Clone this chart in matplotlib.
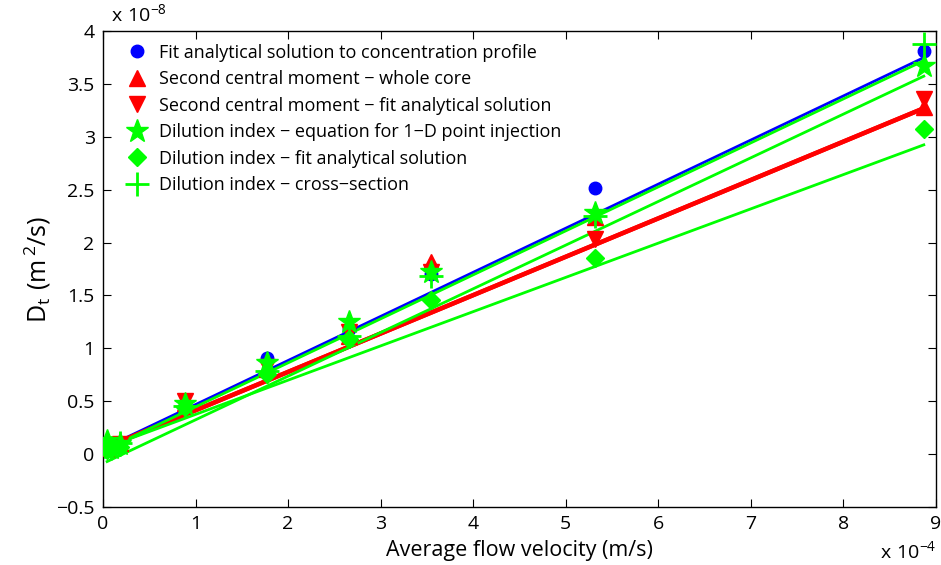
import numpy as np
import matplotlib
matplotlib.use("Agg")
import matplotlib.pyplot as plt

plt.rcParams['font.family'] = ['Open Sans', 'DejaVu Sans']
plt.rcParams['mathtext.fontset'] = 'custom'
plt.rcParams['mathtext.rm'] = 'Open Sans'

# Average flow velocity in units of 1e-4 m/s, dispersion coefficient in 1e-8 m^2/s
velocity = [0.044, 0.089, 0.178, 0.887, 1.774, 2.661, 3.548, 5.322, 8.87]

fit_profile = [0.05, 0.07, 0.10, 0.45, 0.91, 1.18, 1.70, 2.52, 3.81]
moment_core = [0.06, 0.08, 0.10, 0.48, 0.80, 1.12, 1.82, 2.24, 3.28]
moment_fit = [0.05, 0.07, 0.09, 0.50, 0.82, 1.15, 1.72, 2.03, 3.36]
dilution_1d = [0.12, 0.06, 0.09, 0.47, 0.86, 1.25, 1.72, 2.28, 3.67]
dilution_fit = [0.04, 0.05, 0.07, 0.44, 0.76, 1.09, 1.46, 1.85, 3.07]
dilution_xs = [0.08, 0.06, 0.10, 0.45, 0.78, 1.12, 1.68, 2.25, 3.88]

labels = [
    "Fit analytical solution to concentration profile",
    "Second central moment \u2212 whole core",
    "Second central moment \u2212 fit analytical solution",
    "Dilution index \u2212 equation for 1\u2212D point injection",
    "Dilution index \u2212 fit analytical solution",
    "Dilution index \u2212 cross\u2212section",
]

# Linear fits (slope, intercept) for each method
fit_slopes = [0.417, 0.363, 0.363, 0.416, 0.324, 0.413]
fit_intercepts = [0.05, 0.05, 0.05, 0.03, 0.05, -0.09]

series = [fit_profile, moment_core, moment_fit, dilution_1d, dilution_fit, dilution_xs]
colors = ['#0000ff', '#ff0000', '#ff0000', '#00ff00', '#00ff00', '#00ff00']
markers = ['o', '^', 'v', '*', 'D', '+']
msizes = [9, 11, 11, 17, 9, 17]
line_widths = [2.0, 3.2, 3.2, 2.0, 2.0, 2.0]

fig = plt.figure(figsize=(9.41, 5.65), dpi=100)
ax = fig.add_axes([0.1095, 0.103, 0.885, 0.842])

x_line = np.array([velocity[0], velocity[-1]])
for s, c, lw in zip(zip(fit_slopes, fit_intercepts), colors, line_widths):
    ax.plot(x_line, s[0] * x_line + s[1], color=c, lw=lw, zorder=2)

handles = []
for vals, c, m, ms, lab in zip(series, colors, markers, msizes, labels):
    kw = dict(markeredgewidth=2.0) if m == '+' else dict(markeredgecolor=c)
    h, = ax.plot(velocity, vals, linestyle='none', marker=m, color=c,
                 markersize=ms, label=lab, zorder=3, **kw)
    handles.append(h)

ax.set_xlim(0, 9)
ax.set_ylim(-0.5, 4)
ax.set_xticks(range(0, 10))
ax.set_yticks(np.arange(-0.5, 4.01, 0.5))
ax.set_yticklabels(['\u22120.5', '0', '0.5', '1', '1.5', '2', '2.5', '3', '3.5', '4'])
ax.tick_params(direction='in', length=6, width=0.8, labelsize=14,
               top=True, right=True, pad=6)
for sp in ax.spines.values():
    sp.set_linewidth(1.0)

ax.set_xlabel("Average flow velocity (m/s)", fontsize=15.5, labelpad=5)
ax.set_ylabel(r"$\mathregular{D_t\ (m^{\,2}/s)}$", fontsize=18, labelpad=2)

ax.text(0.01, 1.012, r"$\mathregular{x\ 10^{-8}}$", transform=ax.transAxes,
        fontsize=14, ha='left', va='bottom')
ax.text(1.0, -0.07, r"$\mathregular{x\ 10^{-4}}$", transform=ax.transAxes,
        fontsize=14, ha='right', va='top')

ax.legend(handles=handles, loc='upper left', frameon=False, fontsize=13,
          handlelength=1.0, handletextpad=0.7, labelspacing=0.47,
          borderaxespad=0.3, bbox_to_anchor=(0.015, 1.0), numpoints=1)

fig.savefig("out.png", dpi=100)
